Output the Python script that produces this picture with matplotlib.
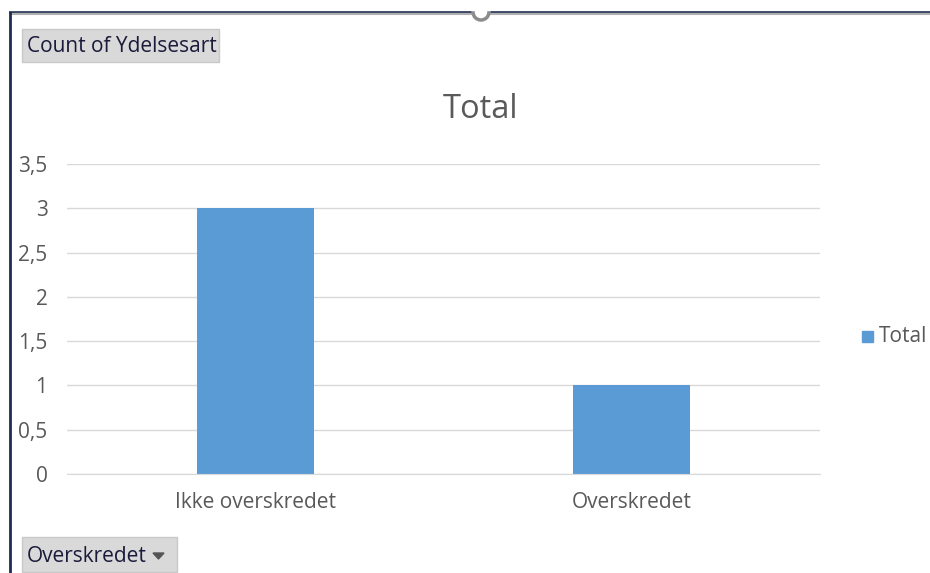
import matplotlib.pyplot as plt
import matplotlib.patches as mpatches
from matplotlib.lines import Line2D

categories = ['Ikke overskredet', 'Overskredet']
counts = [3, 1]
yticks = [0, 0.5, 1, 1.5, 2, 2.5, 3, 3.5]
ytick_labels = ['0', '0,5', '1', '1,5', '2', '2,5', '3', '3,5']

plt.rcParams['font.family'] = ['Open Sans', 'DejaVu Sans']
W, H = 930, 573
fig = plt.figure(figsize=(W / 100, H / 100), dpi=100)

# plot area
ax = fig.add_axes([67 / W, 1 - 474 / H, (820 - 67) / W, (474 - 164) / H])
ax.bar(range(len(categories)), counts, width=0.31, color='#5b9bd5', zorder=2, label='Total')
ax.set_xlim(-0.5, len(categories) - 0.5)
ax.set_ylim(0, 3.5)
ax.set_yticks(yticks)
ax.set_yticklabels(ytick_labels)
ax.set_xticks(range(len(categories)))
ax.set_xticklabels(categories)
ax.grid(axis='y', color='#d9d9d9', linewidth=1, zorder=0)
for s in ['top', 'right', 'left']:
    ax.spines[s].set_visible(False)
ax.spines['bottom'].set_color('#d9d9d9')
ax.tick_params(axis='both', length=0, labelsize=15, labelcolor='#595959')
ax.tick_params(axis='y', pad=14)
ax.tick_params(axis='x', pad=13)

fig.text(480 / W, 1 - 110 / H, 'Total', ha='center', va='center', fontsize=23.5, color='#595959')

# legend
fig.patches.append(mpatches.Rectangle((862 / W, 1 - 342 / H), 11 / W, 11 / H,
                                      transform=fig.transFigure, color='#5b9bd5'))
fig.text(879 / W, 1 - 337 / H, 'Total', ha='left', va='center', fontsize=15, color='#595959')

# chart border
fig.lines.append(Line2D([10 / W, 1], [1 - 11 / H, 1 - 11 / H], transform=fig.transFigure,
                        color='#1f2d4f', linewidth=2))
fig.lines.append(Line2D([10 / W, 1], [1 - 14 / H, 1 - 14 / H], transform=fig.transFigure,
                        color='#b0b0b0', linewidth=1.5))
fig.lines.append(Line2D([10 / W, 10 / W], [0, 1 - 11 / H], transform=fig.transFigure,
                        color='#1f2d4f', linewidth=2))
fig.patches.append(mpatches.Ellipse((481 / W, 1 - 12 / H), 16 / W, 16 / H, transform=fig.transFigure,
                                    facecolor='white', edgecolor='#8c8c8c', linewidth=2.5, zorder=5))
fig.patches.append(mpatches.Rectangle((0, 1 - 10 / H), 1, 10 / H, transform=fig.transFigure,
                                      color='white', zorder=6))

# pivot field buttons
fig.patches.append(mpatches.Rectangle((22 / W, 1 - 62 / H), 197 / W, 33 / H,
                                      transform=fig.transFigure, facecolor='#d9d9d9',
                                      edgecolor='#c8c8c8', linewidth=1))
fig.text(27 / W, 1 - 47 / H, 'Count of Ydelsesart', ha='left', va='center', fontsize=15, color='#1a1a3a')
fig.patches.append(mpatches.Rectangle((22 / W, 1 - 572 / H), 155 / W, 35 / H,
                                      transform=fig.transFigure, facecolor='#d9d9d9',
                                      edgecolor='#c8c8c8', linewidth=1))
fig.text(27 / W, 1 - 557 / H, 'Overskredet', ha='left', va='center', fontsize=15, color='#1a1a3a')
fig.patches.append(mpatches.Polygon([[153 / W, 1 - 553 / H], [164 / W, 1 - 553 / H], [158.5 / W, 1 - 559 / H]],
                                    closed=True, transform=fig.transFigure, color='#555555'))

fig.savefig('out.png', dpi=100)
